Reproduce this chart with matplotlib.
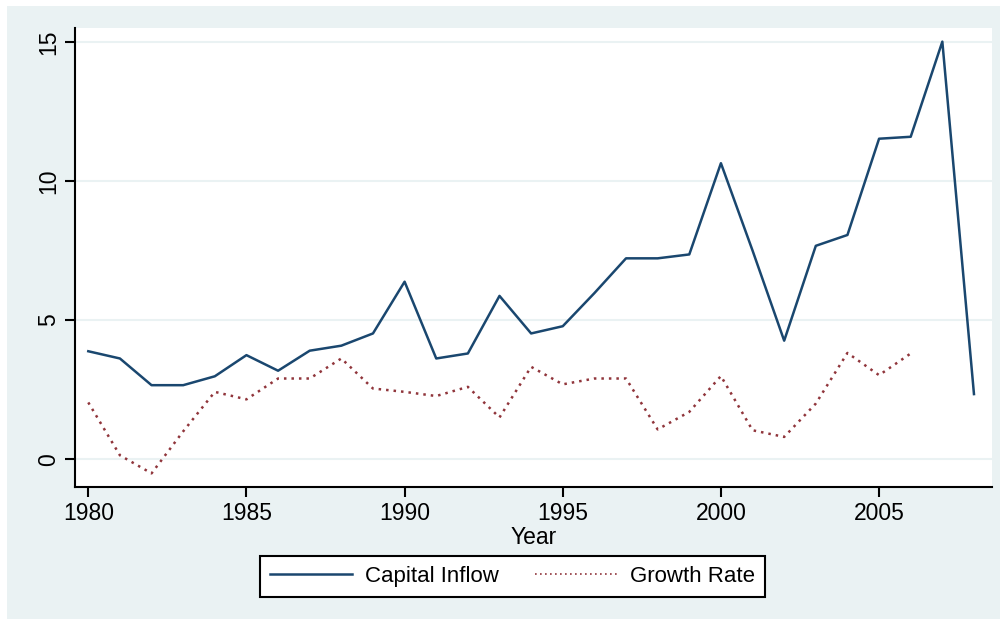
import matplotlib.pyplot as plt
from matplotlib.patches import Rectangle

plt.rcParams['font.family'] = ['Liberation Sans', 'DejaVu Sans']

## data
years = list(range(1980, 2009))
capital_inflow = [3.88, 3.62, 2.66, 2.66, 2.98, 3.74, 3.18, 3.90, 4.08, 4.52,
                  6.38, 3.62, 3.80, 5.87, 4.52, 4.78, 5.97, 7.22, 7.22, 7.36,
                  10.64, 7.50, 4.26, 7.67, 8.06, 11.52, 11.59, 15.01, 2.34]
growth_years = list(range(1980, 2007))
growth_rate = [2.04, 0.14, -0.51, 1.00, 2.42, 2.15, 2.90, 2.90, 3.62, 2.54,
               2.42, 2.27, 2.60, 1.50, 3.32, 2.69, 2.90, 2.90, 1.07, 1.70,
               2.99, 1.04, 0.80, 2.00, 3.82, 3.02, 3.80]
x_ticks = [1980, 1985, 1990, 1995, 2000, 2005]
y_ticks = [0, 5, 10, 15]

bg = "#EAF2F3"
navy = "#1A476F"
maroon = "#90353B"

fig = plt.figure(figsize=(10.03, 6.22), dpi=100, facecolor="white")

## light stata-style background panel
fig.patches.append(Rectangle((7 / 1003, 3 / 622), 993 / 1003, 613 / 622,
                             transform=fig.transFigure, facecolor=bg,
                             edgecolor="none", zorder=-10))

ax = fig.add_axes([75 / 1003, 1 - 487 / 622, 917 / 1003, 459 / 622])
ax.set_facecolor("white")

ax.plot(years, capital_inflow, color=navy, lw=1.8, label="Capital Inflow")
ax.plot(growth_years, growth_rate, color=maroon, lw=1.8, linestyle=(0, (1, 2)),
        label="Growth Rate")

ax.set_xlim(1979.58, 2008.57)
ax.set_ylim(-1.0, 15.5)
ax.set_xticks(x_ticks)
ax.set_yticks(y_ticks)
ax.grid(axis="y", color=bg, lw=1.5)
ax.set_axisbelow(True)

for side in ["top", "right"]:
    ax.spines[side].set_visible(False)
for side in ["left", "bottom"]:
    ax.spines[side].set_linewidth(1.5)

ax.tick_params(axis="both", direction="out", length=7, width=1.5, labelsize=16.5)
plt.setp(ax.get_yticklabels(), rotation=90, va="center")
ax.set_xlabel("Year", fontsize=16.5, labelpad=1)

leg = fig.legend(loc="center", bbox_to_anchor=(512.5 / 1003, 1 - 576.5 / 622), ncol=2,
                 fontsize=16, frameon=True, fancybox=False, edgecolor="black",
                 facecolor="white", framealpha=1,
                 handlelength=3.7, handletextpad=0.6, columnspacing=1.6,
                 borderpad=0.45)
leg.get_frame().set_linewidth(1.5)
leg.get_lines()[1].set_linewidth(1.2)

fig.savefig("out.png", dpi=100, facecolor="white")
